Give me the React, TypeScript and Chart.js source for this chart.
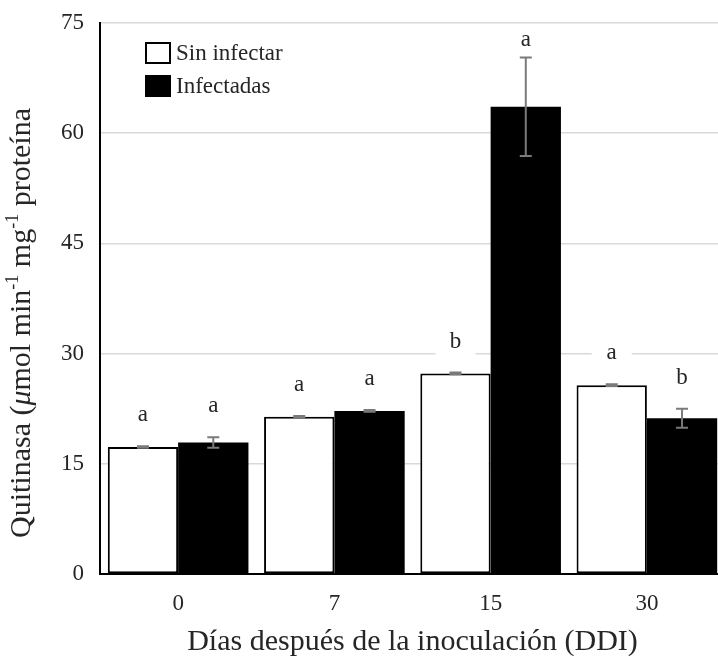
import { useEffect, useRef } from "react";
import { Chart, registerables } from "chart.js";

Chart.register(...registerables);

const categories = ["0", "7", "15", "30"];
const seriesNames = ["Sin infectar", "Infectadas"];
const sinInfectar = [17.3, 21.4, 27.3, 25.7];
const infectadas = [17.9, 22.2, 63.6, 21.2];
const sinInfectarErr = [0.1, 0.12, 0.12, 0.12];
const infectadasErr = [0.7, 0.12, 6.7, 1.3];
const sinInfectarLetters = ["a", "a", "b", "a"];
const infectadasLetters = ["a", "a", "a", "b"];
const yMin = 0;
const yMax = 75;
const yStep = 15;
const xTitle = "Días después de la inoculación (DDI)";
const yTitleParts = [
  { t: "Quitinasa (", s: "n" },
  { t: "μ", s: "i" },
  { t: "mol min", s: "n" },
  { t: "-1", s: "sup" },
  { t: " mg", s: "n" },
  { t: "-1", s: "sup" },
  { t: " proteína", s: "n" },
];

const FONT = "'Liberation Serif', 'Times New Roman', serif";
const TEXT = "#262626";
const FS = 23;
const TS = 30;

const errors = [sinInfectarErr, infectadasErr];
const letters = [sinInfectarLetters, infectadasLetters];

const extrasPlugin = {
  id: "extras",
  afterDatasetsDraw(chart: any) {
    const ctx = chart.ctx;
    const y = chart.scales.y;
    ctx.save();
    chart.data.datasets.forEach((ds: any, di: number) => {
      const meta = chart.getDatasetMeta(di);
      meta.data.forEach((bar: any, i: number) => {
        const v = ds.data[i];
        const e = errors[di][i];
        const x = bar.x;
        const yt = y.getPixelForValue(v + e);
        const yb = y.getPixelForValue(v - e);
        ctx.strokeStyle = "#7a7a7a";
        ctx.lineWidth = 2;
        ctx.beginPath();
        ctx.moveTo(x, yt);
        ctx.lineTo(x, yb);
        ctx.moveTo(x - 6, yt);
        ctx.lineTo(x + 6, yt);
        ctx.moveTo(x - 6, yb);
        ctx.lineTo(x + 6, yb);
        ctx.stroke();
        const ly = Math.max(chart.chartArea.top + 17, yt - 31);
        ctx.fillStyle = "#ffffff";
        ctx.fillRect(x - 20, ly - 14, 40, 28);
        ctx.fillStyle = TEXT;
        ctx.font = `${FS}px ${FONT}`;
        ctx.textAlign = "center";
        ctx.textBaseline = "middle";
        ctx.fillText(letters[di][i], x, ly);
      });
    });
    ctx.restore();
  },
  afterDraw(chart: any) {
    const ctx = chart.ctx;
    ctx.save();
    // legend
    const lx = 145;
    const lys = [42, 75];
    chart.data.datasets.forEach((ds: any, di: number) => {
      const by = lys[di];
      ctx.fillStyle = ds.backgroundColor;
      ctx.fillRect(lx, by, 26, 22);
      ctx.strokeStyle = "#000";
      ctx.lineWidth = 2;
      ctx.strokeRect(lx + 1, by + 1, 24, 20);
      ctx.fillStyle = TEXT;
      ctx.font = `${FS}px ${FONT}`;
      ctx.textAlign = "left";
      ctx.textBaseline = "middle";
      ctx.fillText(ds.label, lx + 31, by + 12);
    });
    // y title
    const fontFor = (s: string) =>
      s === "i"
        ? `italic ${TS}px ${FONT}`
        : s === "sup"
        ? `${Math.round(TS * 0.6)}px ${FONT}`
        : `${TS}px ${FONT}`;
    let total = 0;
    yTitleParts.forEach((p) => {
      ctx.font = fontFor(p.s);
      total += ctx.measureText(p.t).width;
    });
    const cx = 22;
    const cy = 323;
    ctx.translate(cx, cy);
    ctx.rotate(-Math.PI / 2);
    let x = -total / 2;
    ctx.fillStyle = TEXT;
    ctx.textAlign = "left";
    ctx.textBaseline = "middle";
    yTitleParts.forEach((p) => {
      ctx.font = fontFor(p.s);
      ctx.fillText(p.t, x, p.s === "sup" ? -9 : 0);
      x += ctx.measureText(p.t).width;
    });
    ctx.restore();
  },
};

export default function App() {
  const ref = useRef<HTMLCanvasElement | null>(null);
  useEffect(() => {
    if (!ref.current) return;
    const chart = new Chart(ref.current, {
      type: "bar",
      data: {
        labels: categories,
        datasets: [
          {
            label: seriesNames[0],
            data: sinInfectar,
            backgroundColor: "#ffffff",
            borderColor: "#000000",
            borderWidth: 2,
            borderSkipped: false,
          },
          {
            label: seriesNames[1],
            data: infectadas,
            backgroundColor: "#000000",
            borderColor: "#000000",
            borderWidth: 0,
          },
        ],
      },
      options: {
        animation: false,
        responsive: true,
        maintainAspectRatio: false,
        layout: { padding: { top: 23, right: 15, left: 0, bottom: 0 } },
        plugins: { legend: { display: false }, tooltip: { enabled: false } },
        datasets: { bar: { categoryPercentage: 0.9, barPercentage: 1.0 } },
        scales: {
          x: {
            grid: { display: false, drawTicks: false },
            border: { color: "#000", width: 2 },
            ticks: { color: TEXT, font: { family: FONT, size: FS }, padding: 16 },
            title: {
              display: true,
              text: xTitle,
              color: TEXT,
              font: { family: FONT, size: TS },
              padding: { top: 0, bottom: -4 },
            },
            afterFit: (s: any) => {
              s.height = 82;
              s.paddingLeft = 0;
              s.paddingRight = 0;
            },
          },
          y: {
            min: yMin,
            max: yMax,
            ticks: { stepSize: yStep, color: TEXT, font: { family: FONT, size: FS }, padding: 16 },
            grid: { color: "#d9d9d9", lineWidth: 1.5, drawTicks: false },
            border: { color: "#000", width: 2 },
            afterFit: (s: any) => {
              s.width = 100;
              s.paddingTop = 0;
              s.paddingBottom = 0;
            },
          },
        },
      },
      plugins: [extrasPlugin],
    });
    return () => chart.destroy();
  }, []);
  return (
    <div style={{ position: "fixed", left: 0, top: 0, width: 718, height: 656, overflow: "hidden", background: "#fff" }}>
      <div style={{ position: "absolute", left: 0, top: 0, width: 740, height: 656 }}>
        <canvas ref={ref} />
      </div>
    </div>
  );
}
